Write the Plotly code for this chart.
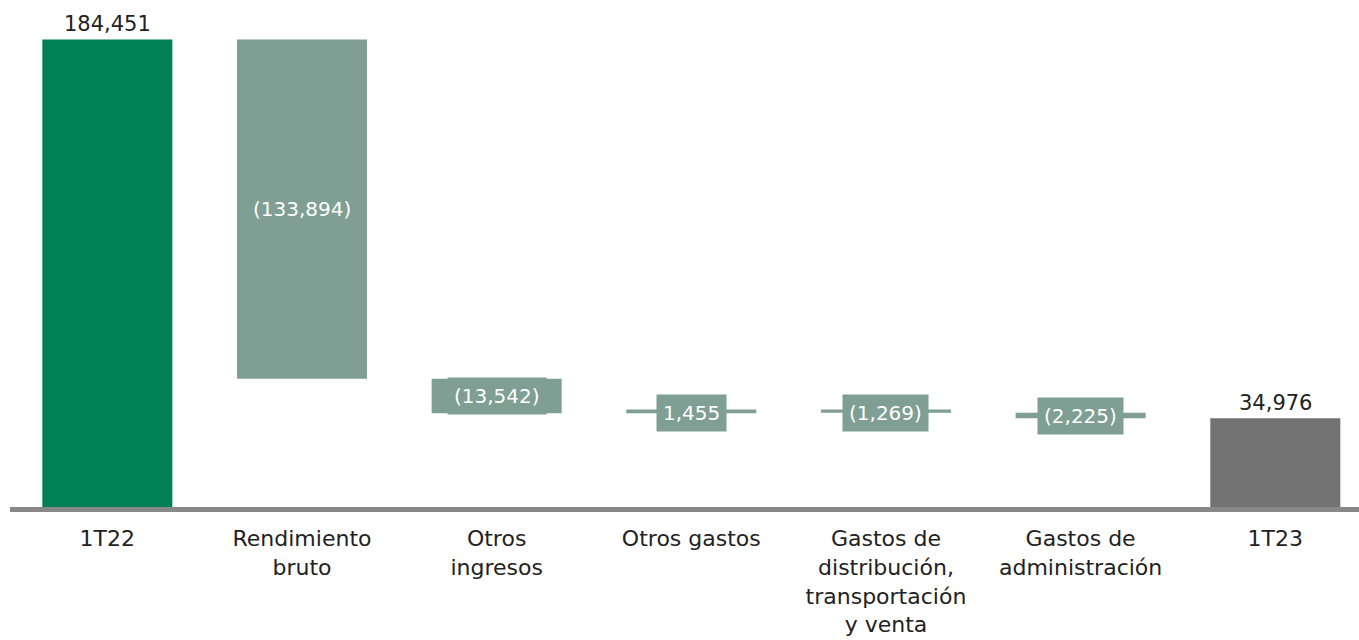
import plotly.graph_objects as go

# Waterfall data (millions)
categories = ["1T22", "Rendimiento<br>bruto", "Otros<br>ingresos", "Otros gastos",
              "Gastos de<br>distribución,<br>transportación<br>y venta",
              "Gastos de<br>administración", "1T23"]
start_value = 184451
changes = [-133894, -13542, 1455, -1269, -2225]
end_value = 34976

GREEN = "#008055"
SAGE = "#7f9e94"
GREY = "#737373"
FONT = "DejaVu Sans"

# Compute floating bar bases and heights from the running total
bases, heights, colors = [0], [start_value], [GREEN]
running = start_value
for c in changes:
    new = running + c
    bases.append(min(running, new))
    heights.append(abs(c))
    colors.append(SAGE)
    running = new
bases.append(0)
heights.append(end_value)
colors.append(GREY)

x = list(range(len(categories)))

fig = go.Figure(go.Bar(
    x=x, y=heights, base=bases,
    marker=dict(color=colors, line=dict(width=0)),
    width=0.668, hoverinfo="skip",
))


def fmt(v):
    s = f"{abs(v):,}"
    return f"({s})" if v < 0 else s


annotations = []
# Totals: labels above the bar
for i, v in [(0, start_value), (len(categories) - 1, end_value)]:
    annotations.append(dict(x=i, y=v, text=fmt(v), showarrow=False,
                            yanchor="bottom", yshift=1,
                            font=dict(family=FONT, size=21, color="#222222")))
# Changes: labels in a box of the bar colour centred on the bar
for k, c in enumerate(changes):
    i = k + 1
    centre = bases[i] + heights[i] / 2
    annotations.append(dict(x=i, y=centre, text=fmt(c), showarrow=False,
                            bgcolor=SAGE, borderpad=6, yshift=-2 if heights[i] < 2000 else 0,
                            font=dict(family=FONT, size=20, color="white")))

fig.update_layout(
    width=1359, height=640,
    margin=dict(l=10, r=0, t=0, b=133),
    paper_bgcolor="white", plot_bgcolor="white",
    showlegend=False,
    annotations=annotations,
    xaxis=dict(
        tickmode="array", tickvals=x, ticktext=categories,
        range=[-0.5, 6.43], showgrid=False, zeroline=False,
        showline=True, linecolor="#888888", linewidth=5,
        ticks="", ticklabelstandoff=8,
        tickfont=dict(family=FONT, size=22, color="#222222"),
    ),
    yaxis=dict(range=[0, 200000], visible=False, showgrid=False, zeroline=False),
)

fig.write_html("out.html")
